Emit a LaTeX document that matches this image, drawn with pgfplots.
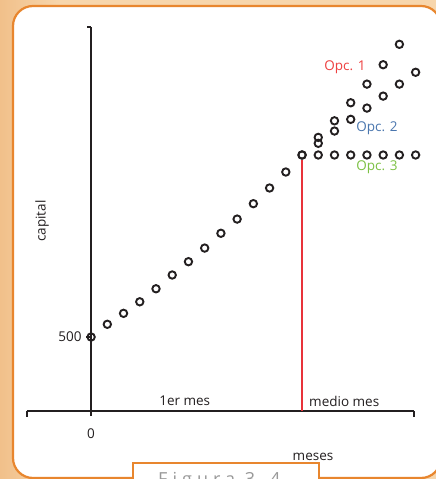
\documentclass[border=0pt]{standalone}
\usepackage{pgfplots}
\pgfplotsset{compat=1.18}
\usepackage{fontspec}
\setmainfont{Open Sans}
\newfontfamily\spaced[LetterSpace=28]{Open Sans}
\definecolor{frameor}{HTML}{E8862E}
\definecolor{peach}{HTML}{F7D6AC}
\definecolor{peachd}{HTML}{F1C08A}
\definecolor{ink}{HTML}{231F20}
\definecolor{opcred}{HTML}{EE4040}
\definecolor{opcblue}{HTML}{4A76AE}
\definecolor{opcgreen}{HTML}{7CC143}
\definecolor{vline}{HTML}{E8333A}

\pgfplotstableread{
x y
0 500
1 586
2 660
3 738
4 826
5 919
6 1009
7 1101
8 1201
9 1297
10 1401
11 1507
12 1615
13 1730
}\main
\pgfplotstableread{
x y
13 1730
14 1730
15 1730
16 1730
17 1730
18 1730
19 1730
20 1730
}\opcthree
\pgfplotstableread{
x y
14 1849
15 1961
16 2083
17 2209
18 2340
19 2478
}\opcone
\pgfplotstableread{
x y
14 1809
15 1892
16 1971
17 2047
18 2128
19 2209
20 2289
}\opctwo

\begin{document}
\begin{tikzpicture}[x=1pt,y=1pt]
\useasboundingbox (0,0) rectangle (436,479);
\clip (0,0) rectangle (436,479);
\shade[left color=peachd, right color=peach] (0,0) rectangle (60,479);
\fill[peach] (60,0) rectangle (436,479);
\filldraw[fill=white, draw=frameor, line width=2.2pt, rounded corners=20pt] (13,1) rectangle (441,473);
\begin{axis}[
  at={(27pt,68pt)}, anchor=south west,
  scale only axis, width=387pt, height=384pt,
  xmin=-3.95, xmax=19.9, ymin=0, ymax=2595,
  axis lines=middle,
  hide obscured x ticks=false,
  hide obscured y ticks=false,
  axis line style={-, draw=ink, line width=1.5pt},
  clip=false,
  xtick={0}, ytick={500},
  tick align=outside,
  major tick length=5pt,
  tick style={draw=ink, line width=1.2pt},
  /pgf/number format/assume math mode=true,
  ticklabel style={font=\fontsize{13.5}{15}\selectfont, text=ink},
  xticklabel style={anchor=north, yshift=-9pt},
  yticklabel style={anchor=east, xshift=-1pt},
  xlabel={meses}, ylabel={capital},
  label style={font=\fontsize{13.5}{15}\selectfont, text=ink},
  xlabel style={at={(axis description cs:0.739,-0.1198)}, anchor=center},
  ylabel style={at={(axis description cs:0.0388,0.4948)}, anchor=center, rotate=90},
]
\addplot[vline, line width=1.3pt] coordinates {(13,0) (13,1696)};
\addplot[only marks, mark=o, mark size=3.7pt, line width=1.9pt, draw=ink, mark options={draw=ink, line width=1.9pt}] table {\main};
\addplot[only marks, mark=o, mark size=3.7pt, line width=1.9pt, draw=ink, mark options={draw=ink, line width=1.9pt}] table {\opcthree};
\addplot[only marks, mark=o, mark size=3.7pt, line width=1.9pt, draw=ink, mark options={draw=ink, line width=1.9pt}] table {\opcone};
\addplot[only marks, mark=o, mark size=3.7pt, line width=1.9pt, draw=ink, mark options={draw=ink, line width=1.9pt}] table {\opctwo};
\draw[ink, line width=1.5pt] (axis cs:-0.25,2595) -- (axis cs:0,2595);
\draw[ink, line width=1.5pt] (axis cs:-3.95,0) -- ([yshift=-6pt]axis cs:-3.95,0);
\draw[ink, line width=1.5pt] (axis cs:19.9,0) -- ([yshift=-6pt]axis cs:19.9,0);
\node[font=\fontsize{13.5}{15}\selectfont, text=ink] at (axis cs:5.77,68) {1er mes};
\node[font=\fontsize{13.5}{15}\selectfont, text=ink] at (axis cs:15.6,68) {medio mes};
\node[font=\fontsize{13.5}{15}\selectfont, text=opcred] at (axis cs:15.65,2326) {Opc. 1};
\node[font=\fontsize{13.5}{15}\selectfont, text=opcblue] at (axis cs:17.62,1910) {Opc. 2};
\node[font=\fontsize{13.5}{15}\selectfont, text=opcgreen] at (axis cs:17.62,1644) {Opc. 3};
\end{axis}
\filldraw[fill=white, draw=frameor, line width=1.2pt] (133,-5) rectangle (319,16);
\node[anchor=base west, text=gray!80, font=\spaced\fontsize{18}{20}\selectfont, inner sep=0pt] at (158,-6) {Figura 3.4};
\end{tikzpicture}
\end{document}
